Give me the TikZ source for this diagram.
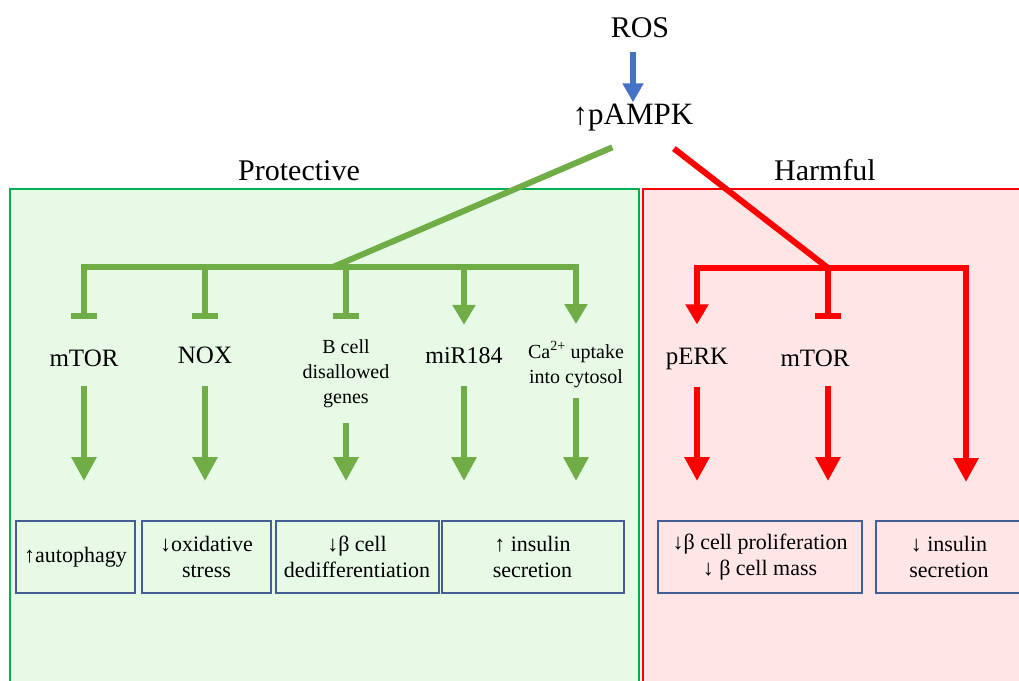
\documentclass[tikz,border=0pt]{standalone}
\usepackage{fontspec}
\setmainfont{Liberation Serif}
\usetikzlibrary{arrows.meta}
\usetikzlibrary{positioning}
\definecolor{protgreen}{RGB}{112,173,71}
\definecolor{framegreen}{RGB}{0,176,80}
\definecolor{bggreen}{RGB}{230,250,230}
\definecolor{bgred}{RGB}{255,230,230}
\definecolor{boxblue}{RGB}{68,94,150}
\definecolor{rosblue}{RGB}{68,114,196}
\tikzset{
prot/.style = {draw=protgreen, line width=6pt},
harm/.style = {draw=red, line width=6pt},
act/.style = {-{Triangle[width=22pt,length=20pt]}, shorten >=#1},
act/.default = 22pt,
inh/.style = {-{Bar[width=26pt]}, shorten >=#1},
inh/.default = 30pt, % bar sits just above the label
down/.style = {-{Triangle[width=24pt,length=24pt]}, shorten >=39pt, shorten <=#1},
down/.default = 20pt,
lab/.style = {font=\fontsize{25}{30}\selectfont, inner sep=0pt, anchor=base},
sublab/.style = {font=\fontsize{20}{25}\selectfont, inner sep=0pt, anchor=base, align=center},
headtxt/.style = {font=\fontsize{30}{36}\selectfont, inner sep=0pt, anchor=base},
res/.style = {draw=boxblue, line width=2pt, minimum height=72pt, inner sep=0pt,
              align=center, font=\fontsize{22}{26}\selectfont}
}

\begin{document}
\begin{tikzpicture}[x=1pt, y=-1pt]
        \useasboundingbox (0,0) rectangle (1019,680);
        % the two panels
        \fill[bggreen] (10,189) rectangle (639,700);
        \draw[framegreen, line width=1.5pt] (10,700) -- (10,189) -- (639,189) -- (639,700);
        \fill[bgred] (643,189) rectangle (1040,700);
        \draw[red, line width=1.5pt] (643,700) -- (643,189) -- (1040,189);
        \node[headtxt] (tprot) at (299,180) {Protective};
        \node[headtxt] (tharm) at (825,180) {Harmful};

        \node[headtxt] (ros) at (640,37) {ROS};
        \node[headtxt, font=\fontsize{31}{36}\selectfont] (pampk) at (633,124) {↑pAMPK};
        \draw[rosblue, line width=6pt, -{Triangle[width=20pt,length=19pt]}, shorten <=15pt, shorten >=1pt] (ros.south -| pampk) -- (pampk);

        \coordinate (fork) at ([xshift=18pt]pampk.south);
        \coordinate (gJ) at (333,267);
        \coordinate (rJ) at (828,268);
        \draw[prot, shorten <=42pt] (fork) -- (gJ);
        \draw[harm, shorten <=29pt] (fork) -- (rJ);

        % targets (multi-line ones sit on their last line)
        \node[lab] (mtorL) at (84,366) {mTOR};
        \node[lab] (nox) at (205,363) {NOX};
        \node[sublab] (bcell) at (346,403) {B cell\\disallowed\\genes};
        \node[lab, font=\fontsize{24}{30}\selectfont] (mir) at (464,363) {miR184};
        \node[sublab] (ca) at (576,383) {Ca\textsuperscript{2+} uptake\\into cytosol};
        \node[lab] (perk) at (697,364) {pERK};
        \node[lab] (mtorR) at (815,366) {mTOR};

        % outcomes
        \node[res, minimum width=119pt] (r1) at (75.5,557) {↑autophagy};
        \node[res, minimum width=129pt] (r2) at (206.5,557) {↓oxidative\\stress};
        \node[res, minimum width=163pt] (r3) at (357,557) {↓β cell\\dedifferentiation};
        \node[res, minimum width=182pt] (r4) at (532.5,557) {↑ insulin\\secretion};
        \node[res, minimum width=204pt] (r5) at (760,557) {↓β cell proliferation\\↓ β cell mass};
        \node[res, minimum width=146pt] (r6) at (949,557) {↓ insulin\\secretion};
        \coordinate (rE) at (966,521);

        % protective branches
        \draw[prot, inh] (gJ) -| (mtorL);
        \draw[prot, act=17pt] (gJ) -| (ca);
        \draw[prot, inh=27pt] (gJ -| nox) -- (nox);
        \draw[prot, inh=20pt] (gJ -| bcell) -- (bcell);
        \draw[prot, act] (gJ -| mir) -- (mir);
        \draw[prot, down] (mtorL) -- (mtorL |- r1.north);
        \draw[prot, down=23pt] (nox) -- (nox |- r2.north);
        \draw[prot, down=15pt] (bcell) -- (bcell |- r3.north);
        \draw[prot, down=23pt] (mir) -- (mir |- r4.north);
        \draw[prot, down=10pt] (ca) -- (ca |- r4.north);

        % harmful branches
        \draw[harm, act=23pt] (rJ) -| (perk);
        \draw[harm, inh] (rJ) -- (rJ |- mtorR.north);
        \draw[harm, down=0pt] (rJ) -| (rE);
        \draw[harm, down=17pt] (perk) -- (perk |- r5.north);
        \draw[harm, down] (mtorR.south -| rJ) -- (rJ |- r5.north);
\end{tikzpicture}
\end{document}
